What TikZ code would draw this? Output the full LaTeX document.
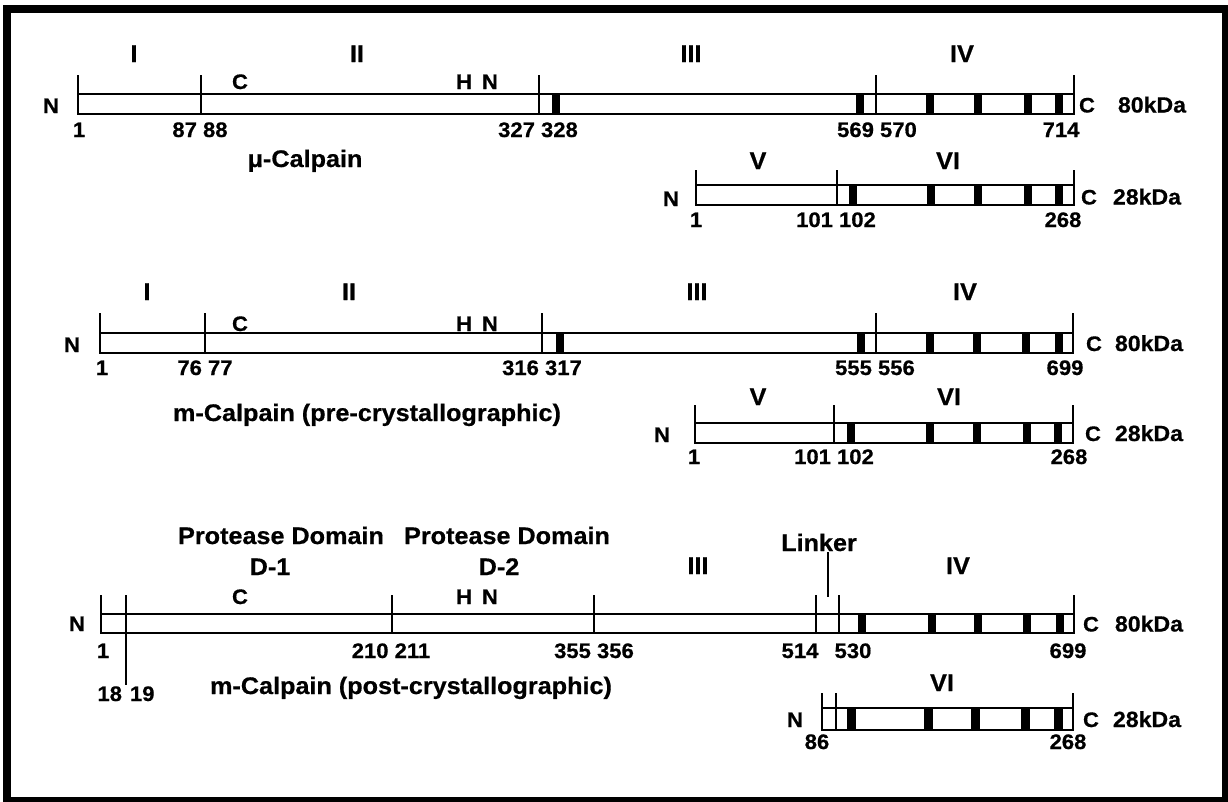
\documentclass[tikz,border=0pt]{standalone}
\usepackage{fontspec}
\setmainfont{Liberation Sans}[FakeStretch=1.05,FakeBold=0.6]
\newcommand\protbar[8]{%
  \draw[bar] (#1,#3) rectangle (#2,#4);
  \draw[bar] (#1,#5) -- (#1,#4) (#2,#5) -- (#2,#4);
  \foreach \d in {#6} \draw[bar] (\d,#5) -- (\d,#4);
  \foreach \b in {#7} \fill ({\b-#8/2},#3) rectangle ({\b+#8/2},#4);
}
\begin{document}
\begin{tikzpicture}[x=1pt,y=-1pt,
  bar/.style={line width=1.8pt},
  dom/.style={font=\fontsize{24}{27}\selectfont\bfseries, inner sep=0pt, anchor=base},
  sm/.style={font=\fontsize{21}{24}\selectfont\bfseries, inner sep=0pt, anchor=base},
  kda/.style={font=\fontsize{22}{25}\selectfont\bfseries, inner sep=0pt, anchor=base}]
\useasboundingbox (0,0) rectangle (1228,801);
\draw[line width=8pt] (7,9) rectangle (1226,801);

% ---------- mu-Calpain ----------
\protbar{78}{1074}{94}{114}{75}{201,539,876}{556,860,930,978,1028,1059}{8}
\node[dom] (a1) at (134,62) {I};
\node[dom] (a2) at (357,62) {II};
\node[dom] (a3) at (691,62) {III};
\node[dom] (a4) at (962,62) {IV};
\node[sm] (ac) at (240,89) {C};
\node[sm] (ahn) at (477,89) {H\hspace{10pt}N};
\node[sm] (an) at (51,113) {N};
\node[sm] (ace) at (1087,112.5) {C};
\node[kda] (akd) at (1152,112.5) {80kDa};
\node[sm] (an1) at (79,137) {1};
\node[sm] (an2) at (200,137) {87 88};
\node[sm] (an3) at (538,137) {327 328};
\node[sm] (an4) at (877,137) {569 570};
\node[sm] (an5) at (1061,137) {714};
\node[dom] (aname) at (305,167) {μ-Calpain};

\protbar{696}{1074}{185}{205}{170}{837}{853,931,978,1028,1059}{8}
\node[dom] (b5) at (758,169) {V};
\node[dom] (b6) at (948,169) {VI};
\node[sm] (bn) at (671,206) {N};
\node[sm] (bce) at (1089,204.5) {C};
\node[kda] (bkd) at (1147,204.5) {28kDa};
\node[sm] (bn1) at (696,227) {1};
\node[sm] (bn2) at (836,227) {101 102};
\node[sm] (bn3) at (1063,227) {268};

% ---------- m-Calpain (pre) ----------
\protbar{100}{1073}{333}{353}{313}{205,542,876}{560,861,930,977,1026,1059}{8}
\node[dom] (c1) at (147,300) {I};
\node[dom] (c2) at (349,300) {II};
\node[dom] (c3) at (697,300) {III};
\node[dom] (c4) at (965,300) {IV};
\node[sm] (cc) at (240,331) {C};
\node[sm] (chn) at (477,331) {H\hspace{10pt}N};
\node[sm] (cn) at (72,352) {N};
\node[sm] (cce) at (1094,351) {C};
\node[kda] (ckd) at (1149,351) {80kDa};
\node[sm] (cn1) at (102,375) {1};
\node[sm] (cn2) at (205,375) {76 77};
\node[sm] (cn3) at (542,375) {316 317};
\node[sm] (cn4) at (875,375) {555 556};
\node[sm] (cn5) at (1065,375) {699};
\node[dom] (cname) at (367,421) {m-Calpain (pre-crystallographic)};

\protbar{695}{1073}{423}{443}{405}{834}{851,930,977,1027,1058}{8}
\node[dom] (d5) at (758,405) {V};
\node[dom] (d6) at (949,405) {VI};
\node[sm] (dn) at (662,442) {N};
\node[sm] (dce) at (1093,441) {C};
\node[kda] (dkd) at (1149,441) {28kDa};
\node[sm] (dn1) at (694,464) {1};
\node[sm] (dn2) at (834,464) {101 102};
\node[sm] (dn3) at (1069,464) {268};

% ---------- m-Calpain (post) ----------
\protbar{101}{1074}{614}{633}{595}{392,594,816,839}{862,932,978,1027,1060}{8}
\draw[bar] (126,595) -- (126,685);
\node[dom] (e1a) at (281,544) {Protease Domain};
\node[dom] (e1b) at (270,575) {D-1};
\node[dom] (e2a) at (507,544) {Protease Domain};
\node[dom] (e2b) at (499,575) {D-2};
\node[dom] (elk) at (819,551) {Linker};
\coordinate (elkend) at (828,597);
\draw[line width=1.5pt] (elkend |- elk.base) ++(0,1) -- (elkend);
\node[dom] (e3) at (698,574) {III};
\node[dom] (e4) at (958,574) {IV};
\node[sm] (ec) at (240,604) {C};
\node[sm] (ehn) at (477,604) {H\hspace{10pt}N};
\node[sm] (en) at (77,631) {N};
\node[sm] (ece) at (1091,631.5) {C};
\node[kda] (ekd) at (1149,631.5) {80kDa};
\node[sm] (en1) at (103,658) {1};
\node[sm] (en2) at (391,658) {210 211};
\node[sm] (en3) at (594,658) {355 356};
\node[sm] (en4) at (800,658) {514};
\node[sm] (en5) at (853,658) {530};
\node[sm] (en6) at (1068,658) {699};
\node[sm] (en7) at (126,701) {18\hspace{8pt}19};
\node[dom] (ename) at (411,694) {m-Calpain (post-crystallographic)};

\protbar{822}{1073}{708}{730}{693}{836}{851,928,975,1025,1058}{9}
\node[dom] (f6) at (942,691) {VI};
\node[sm] (fn) at (795,727) {N};
\node[sm] (fce) at (1091,727) {C};
\node[kda] (fkd) at (1147,727) {28kDa};
\node[sm] (fn1) at (817,749) {86};
\node[sm] (fn2) at (1068,749) {268};
\end{tikzpicture}
\end{document}
